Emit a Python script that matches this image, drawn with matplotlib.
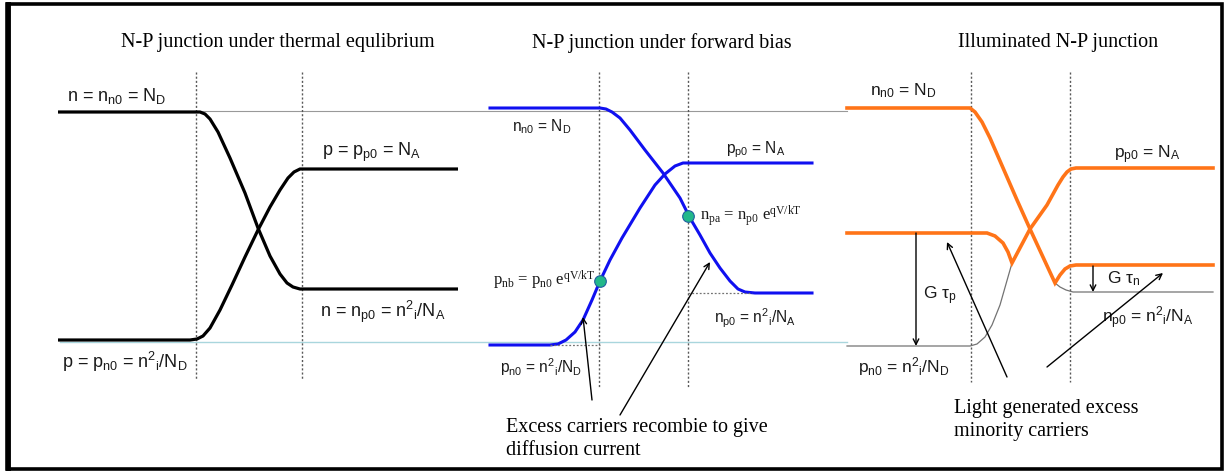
import matplotlib
matplotlib.use("Agg")
import matplotlib.pyplot as plt
from matplotlib.patches import Rectangle

plt.rcParams["mathtext.default"] = "regular"

# canvas is in picture pixels (x right, y down)
W, H = 1228, 471

# panel 1: thermal equilibrium (black)
eq_n_x = [58, 200, 205, 210, 218, 230, 245, 258, 270, 280, 287, 293, 300, 458]
eq_n_y = [112, 112, 114, 119, 132, 158, 193, 228, 256, 274, 283, 287, 289, 289]
eq_p_x = [58, 190, 197, 203, 210, 220, 232, 245, 258, 270, 280, 288, 294, 300, 458]
eq_p_y = [340, 340, 339, 336, 328, 310, 285, 257, 230, 207, 190, 178, 172, 169, 169]

# panel 2: forward bias (blue)
fb_n_x = [490, 600, 606, 612, 620, 630, 645, 663, 680, 690, 700, 710, 720, 730, 738, 745, 755, 812]
fb_n_y = [108, 108, 109, 112, 118, 130, 150, 173, 198, 218, 235, 253, 268, 281, 289, 292, 293, 293]
fb_p_x = [490, 550, 558, 566, 575, 583, 592, 600, 610, 622, 640, 655, 665, 675, 683, 690, 812]
fb_p_y = [345, 345, 344, 340, 332, 320, 300, 281, 260, 238, 208, 185, 174, 166, 163, 163, 163]
fb_dot_x = [600, 688]
fb_dot_y = [281, 216]

# panel 3: illuminated (orange + thin grey dark levels)
il_n_x = [847, 970, 975, 982, 990, 1017, 1030, 1055, 1060, 1065, 1070, 1076, 1213]
il_n_y = [108, 108, 112, 122, 138, 200, 229, 283, 275, 269, 266, 265, 265]
il_p_x = [847, 987, 995, 1003, 1008, 1012, 1030, 1047, 1058, 1063, 1067, 1071, 1076, 1213]
il_p_y = [233, 233, 236, 243, 252, 263, 229, 205, 185, 177, 172, 169, 168, 168]
dk_p_x = [847, 970, 977, 985, 992, 1000, 1012]
dk_p_y = [346, 346, 344, 337, 325, 305, 263]
dk_n_x = [1055, 1060, 1066, 1073, 1213]
dk_n_y = [283, 287, 290, 292, 292]

titles = ["N-P junction under thermal equlibrium",
          "N-P junction under forward bias",
          "Illuminated N-P junction"]
title_x = [278, 662, 1058]
dotted_x = [196, 302, 599, 688, 971, 1070]
dotted_bottom = [380, 380, 388, 388, 382, 382]

fig = plt.figure(figsize=(W / 100, H / 100), dpi=100)
ax = fig.add_axes([0, 0, 1, 1])
ax.set_xlim(0, W)
ax.set_ylim(H, 0)
ax.axis("off")

# frame
ax.add_patch(Rectangle((7, 4), 1215, 465, fill=False, edgecolor="black", linewidth=2.6))
ax.plot([8, 8], [4, 469], color="black", linewidth=3.5)

# reference levels
ax.plot([60, 847], [111, 111], color="0.6", linewidth=0.8)
ax.plot([60, 847], [342, 342], color="#a9d6dd", linewidth=1.0)

for x, yb in zip(dotted_x, dotted_bottom):
    ax.plot([x, x], [72, yb], color="0.35", linewidth=1.0, linestyle=(0, (1.5, 1.5)))

for t, x in zip(titles, title_x):
    ax.text(x, 43, t, family="Liberation Serif", fontsize=14.5, ha="center", va="center")

# curves
ax.plot(eq_n_x, eq_n_y, color="black", linewidth=2.3, solid_capstyle="butt")
ax.plot(eq_p_x, eq_p_y, color="black", linewidth=2.3, solid_capstyle="butt")
ax.plot(fb_n_x, fb_n_y, color="#1010f0", linewidth=2.2)
ax.plot(fb_p_x, fb_p_y, color="#1010f0", linewidth=2.2)
ax.scatter(fb_dot_x, fb_dot_y, s=70, color="#22b88a", edgecolors="#1f5fa0", linewidths=0.8, zorder=5)
ax.plot(dk_p_x, dk_p_y, color="0.45", linewidth=0.9)
ax.plot(dk_n_x, dk_n_y, color="0.45", linewidth=0.9)
ax.plot(il_n_x, il_n_y, color="#ff7418", linewidth=2.6, solid_joinstyle="miter")
ax.plot(il_p_x, il_p_y, color="#ff7418", linewidth=2.6, solid_joinstyle="miter")

# guide dotted lines in forward bias panel
ax.plot([550, 600], [345, 345], color="0.45", linewidth=0.9, linestyle=(0, (1.5, 1.5)))
ax.plot([688, 752], [293, 293], color="0.45", linewidth=0.9, linestyle=(0, (1.5, 1.5)))

lab1 = dict(family="Liberation Sans", fontsize=13, color="#1a1a1a", va="center", ha="left")
lab2 = dict(family="Liberation Sans", fontsize=11.2, color="#1a1a1a", va="center", ha="left")
lab3 = dict(family="Liberation Sans", fontsize=12.5, color="#1a1a1a", va="center", ha="left")
ser = dict(family="Liberation Serif", fontsize=12, color="#1a1a1a", va="center", ha="left")

ax.text(67, 96, r"n = n$_{n0}$ = N$_D$", **lab1)
ax.text(322, 152, r"p = p$_{p0}$ = N$_A$", **lab1)
ax.text(320, 312, r"n = n$_{p0}$ = n$^2{}_i$/N$_A$", **lab1)
ax.text(62, 362, r"p = p$_{n0}$ = n$^2{}_i$/N$_D$", **lab1)

ax.text(512, 127, r"n$_{n0}$ = N$_D$", **lab2)
ax.text(726, 150, r"p$_{p0}$ = N$_A$", **lab2)
ax.text(700, 216, r"n$_{pa}$ = n$_{p0}$ e$^{qV/kT}$", **ser)
ax.text(493, 280, r"p$_{nb}$ = p$_{n0}$ e$^{qV/kT}$", **ser)
ax.text(714, 318, r"n$_{p0}$ = n$^2{}_i$/N$_A$", **lab2)
ax.text(500, 367, r"p$_{n0}$ = n$^2{}_i$/N$_D$", **lab2)

ax.text(870, 91, r"n$_{n0}$ = N$_D$", **lab3)
ax.text(1114, 155, r"p$_{p0}$ = N$_A$", **lab3)
ax.text(1102, 318, r"n$_{p0}$ = n$^2{}_i$/N$_A$", **lab3)
ax.text(858, 367, r"p$_{n0}$ = n$^2{}_i$/N$_D$", **lab3)
ax.text(923, 296, r"G $\tau_p$", **lab3)
ax.text(1107, 279, r"G $\tau_n$", **lab3)

arrow = dict(arrowstyle="->", color="black", lw=1.0, shrinkA=0, shrinkB=0)
ax.annotate("", xy=(583, 317), xytext=(592, 400), arrowprops=arrow)
ax.annotate("", xy=(710, 262), xytext=(620, 415), arrowprops=arrow)
ax.annotate("", xy=(916, 346), xytext=(916, 233), arrowprops=arrow)
ax.annotate("", xy=(1093, 292), xytext=(1093, 266), arrowprops=arrow)
ax.annotate("", xy=(947, 242), xytext=(1007, 377), arrowprops=arrow)
ax.annotate("", xy=(1163, 273), xytext=(1047, 367), arrowprops=arrow)

ax.text(506, 439, "Excess carriers recombie to give\ndiffusion current",
        family="Liberation Serif", fontsize=14.5, va="center", ha="left", linespacing=1.25)
ax.text(954, 420, "Light generated excess\nminority carriers",
        family="Liberation Serif", fontsize=14.5, va="center", ha="left", linespacing=1.25)

fig.savefig("out.png", dpi=100)
